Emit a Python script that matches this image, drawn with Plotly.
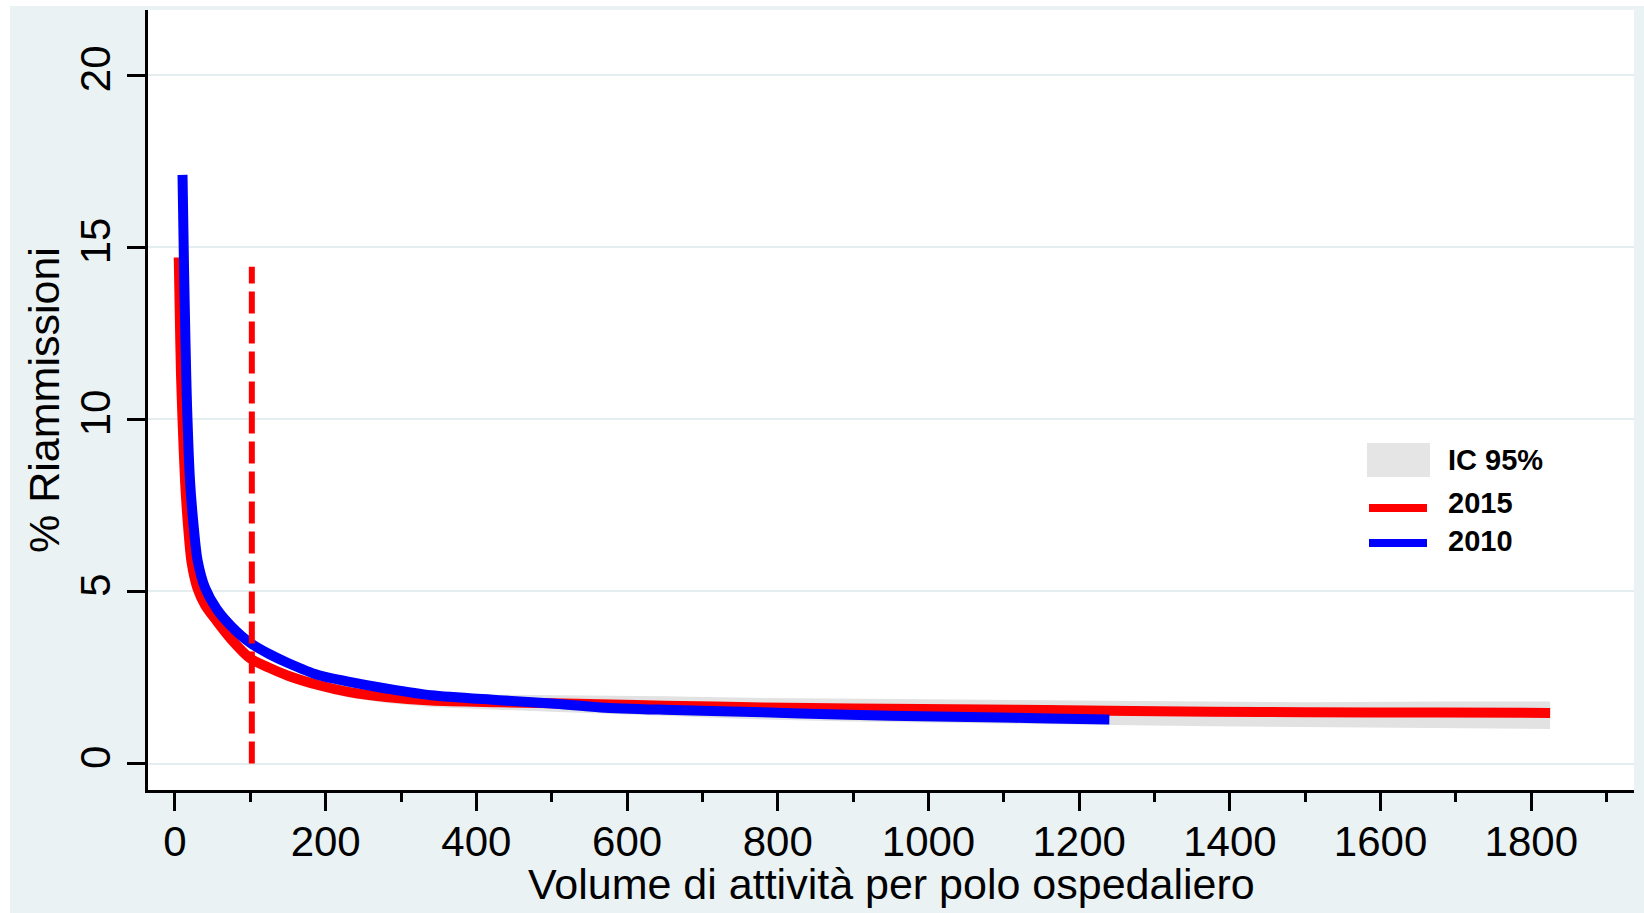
import plotly.graph_objects as go

# ---------------- data ----------------
x_2015 = [5, 6.4, 8, 10, 13.4, 17, 22, 30, 40, 55, 75, 100, 125, 150, 190, 230, 280, 340,
          430, 500, 565, 650, 780, 900, 1075, 1240, 1375, 1500, 1680, 1825]
y_2015 = [14.7, 13.0, 11.3, 10.0, 8.2, 7.0, 5.85, 5.08, 4.6, 4.15, 3.6, 3.05, 2.78, 2.55, 2.28,
          2.08, 1.93, 1.83, 1.78, 1.75, 1.72, 1.68, 1.63, 1.60, 1.57, 1.53, 1.50, 1.49, 1.48, 1.47]
ci_lo_2015 = [14.3, 12.6, 10.95, 9.7, 7.95, 6.8, 5.67, 4.91, 4.43, 3.98, 3.44, 2.9, 2.63, 2.4,
              2.12, 1.92, 1.76, 1.64, 1.55, 1.5, 1.45, 1.38, 1.28, 1.22, 1.16, 1.12, 1.08, 1.06,
              1.02, 1.0]
ci_hi_2015 = [15.1, 13.4, 11.65, 10.3, 8.45, 7.2, 6.03, 5.25, 4.77, 4.32, 3.76, 3.2, 2.93, 2.7,
              2.44, 2.24, 2.1, 2.02, 2.0, 2.0, 1.99, 1.95, 1.9, 1.88, 1.85, 1.84, 1.81, 1.78,
              1.8, 1.8]

x_2010 = [10, 12, 14, 16, 20, 25, 30, 40, 55, 75, 100, 125, 150, 190, 230, 280, 340, 430, 500,
          565, 650, 700, 780, 830, 950, 1075, 1160, 1240]
y_2010 = [17.1, 14.4, 12.2, 10.4, 8.2, 6.85, 5.9, 5.1, 4.5, 3.98, 3.5, 3.18, 2.92, 2.57, 2.38,
          2.18, 1.98, 1.84, 1.74, 1.63, 1.56, 1.53, 1.49, 1.45, 1.39, 1.34, 1.31, 1.28]

cut_x = [102, 102]
cut_y = [0, 14.43]

x_ticks = [0, 200, 400, 600, 800, 1000, 1200, 1400, 1600, 1800]
y_ticks = [0, 5, 10, 15, 20]
legend_labels = ["IC 95%", "2015", "2010"]
x_title = "Volume di attività per polo ospedaliero"
y_title = "% Riammissioni"

# ---------------- styling ----------------
W, H = 1644, 913
L, R, T, B = 148, 10, 10, 123          # plot area margins in px
PW, PH = W - L - R, H - T - B
FONT = "Liberation Sans, Arial, sans-serif"
BG = "#EAF2F3"
RED, BLUE, GREY = "#FF0000", "#0000FF", "#E2E2E2"


def px(xp):
    return (xp - L) / PW


def py(yp):
    return (H - B - yp) / PH


fig = go.Figure()

# confidence band
fig.add_trace(go.Scatter(x=x_2015, y=ci_lo_2015, mode="lines", line=dict(width=0, color=GREY),
                         hoverinfo="skip", showlegend=False))
fig.add_trace(go.Scatter(x=x_2015, y=ci_hi_2015, mode="lines", line=dict(width=0, color=GREY),
                         fill="tonexty", fillcolor=GREY, name="IC 95%", showlegend=False))
# curves
fig.add_trace(go.Scatter(x=x_2015, y=y_2015, mode="lines", name="2015",
                         line=dict(color=RED, width=10, shape="spline", smoothing=0.8),
                         showlegend=False))
fig.add_trace(go.Scatter(x=x_2010, y=y_2010, mode="lines", name="2010",
                         line=dict(color=BLUE, width=10, shape="spline", smoothing=0.8),
                         showlegend=False))
# threshold line
fig.add_trace(go.Scatter(x=cut_x, y=cut_y, mode="lines", showlegend=False,
                         line=dict(color=RED, width=6, dash="22px,8px")))

shapes = []
# white strips at top/left edge of the image
shapes.append(dict(type="rect", xref="paper", yref="paper", x0=px(0), x1=px(W), y0=py(6), y1=py(0),
                   fillcolor="white", line=dict(width=0), layer="below"))
shapes.append(dict(type="rect", xref="paper", yref="paper", x0=px(0), x1=px(10), y0=py(H), y1=py(0),
                   fillcolor="white", line=dict(width=0), layer="below"))
# manual legend
shapes.append(dict(type="rect", xref="paper", yref="paper", x0=px(1367), x1=px(1430),
                   y0=py(477), y1=py(443), fillcolor="#E5E5E5", line=dict(width=0)))
shapes.append(dict(type="line", xref="paper", yref="paper", x0=px(1369), x1=px(1427),
                   y0=py(508), y1=py(508), line=dict(color=RED, width=8)))
shapes.append(dict(type="line", xref="paper", yref="paper", x0=px(1369), x1=px(1427),
                   y0=py(543), y1=py(543), line=dict(color=BLUE, width=8)))

annotations = []
for lab, yc in zip(legend_labels, [460, 503, 541]):
    annotations.append(dict(text="<b>%s</b>" % lab, xref="paper", yref="paper", x=px(1446), y=py(yc),
                            xanchor="left", yanchor="middle", showarrow=False,
                            font=dict(family=FONT, size=29, color="black")))
# x-axis title
annotations.append(dict(text=x_title, xref="paper", yref="paper", x=0.5, y=py(884),
                        xanchor="center", yanchor="middle", showarrow=False,
                        font=dict(family=FONT, size=43, color="black")))

fig.update_layout(
    width=W, height=H,
    margin=dict(l=L, r=R, t=T, b=B, pad=0),
    paper_bgcolor=BG, plot_bgcolor="white",
    font=dict(family=FONT, color="black"),
    shapes=shapes, annotations=annotations,
    showlegend=False,
)

fig.update_xaxes(
    range=[-35.8, 1936.3], tickvals=x_ticks, ticktext=[str(v) for v in x_ticks],
    ticks="outside", ticklen=18, tickwidth=3, tickcolor="black", ticklabelstandoff=-5,
    minor=dict(dtick=100, tick0=0, ticks="outside", ticklen=9, tickwidth=3, tickcolor="black",
               showgrid=False),
    showline=True, linecolor="black", linewidth=3, showgrid=False, zeroline=False,
    tickfont=dict(family=FONT, size=42, color="black"),
)
fig.update_yaxes(
    range=[-0.77, 21.89], tickvals=y_ticks, ticktext=[str(v) for v in y_ticks],
    ticks="outside", ticklen=18, tickwidth=3, tickcolor="black", tickangle=-90,
    showline=True, linecolor="black", linewidth=3,
    showgrid=True, gridcolor="#E4EEF0", gridwidth=2, zeroline=False,
    tickfont=dict(family=FONT, size=42, color="black"),
    title=dict(text=y_title, standoff=0,
               font=dict(family=FONT, size=43, color="black")),
)

fig.write_html("out.html")
